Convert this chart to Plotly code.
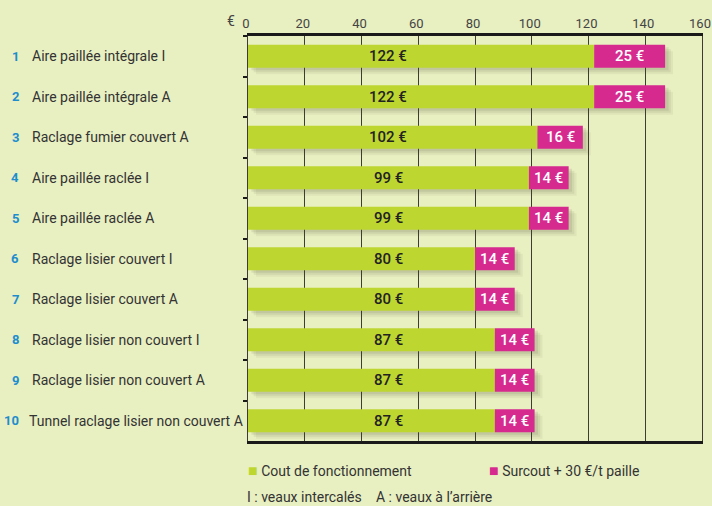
import plotly.graph_objects as go

# Systems compared (number, label) and annual costs in € per place
numbers = ["1", "2", "3", "4", "5", "6", "7", "8", "9", "10"]
systems = [
    "Aire paillée intégrale I",
    "Aire paillée intégrale A",
    "Raclage fumier couvert A",
    "Aire paillée raclée I",
    "Aire paillée raclée A",
    "Raclage lisier couvert I",
    "Raclage lisier couvert A",
    "Raclage lisier non couvert I",
    "Raclage lisier non couvert A",
    "Tunnel raclage lisier non couvert A",
]
running_cost = [122, 122, 102, 99, 99, 80, 80, 87, 87, 87]
straw_extra = [25, 25, 16, 14, 14, 14, 14, 14, 14, 14]
x_ticks = [0, 20, 40, 60, 80, 100, 120, 140, 160]

GREEN = "#bed630"
MAGENTA = "#d62a8f"
BLUE = "#1d8dce"
BG = "#e8efc1"
TEXT = "#333333"
FONT = "Roboto"

W, H = 712, 506
L, R, T, B = 248, 10, 36, 65
PW, PH = W - L - R, H - T - B


def px(x):
    return (x - L) / PW


def py(y):
    return (H - B - y) / PH


totals = [a + b for a, b in zip(running_cost, straw_extra)]
bar_w = 0.57

fig = go.Figure()

# soft drop shadow under each full bar
for dx, dy, alpha in [(1.2, 0.06, 0.10), (2.0, 0.11, 0.08), (2.8, 0.16, 0.06)]:
    fig.add_trace(go.Bar(
        y=numbers, x=totals, base=dx, orientation="h",
        width=bar_w, offset=-bar_w / 2 + dy,
        marker=dict(color=f"rgba(70,70,40,{alpha})", line=dict(width=0)),
        hoverinfo="skip", showlegend=False,
    ))

fig.add_trace(go.Bar(
    y=numbers, x=running_cost, orientation="h", name="Cout de fonctionnement",
    width=bar_w, marker=dict(color=GREEN, line=dict(width=0)), showlegend=False,
))
fig.add_trace(go.Bar(
    y=numbers, x=straw_extra, base=running_cost, orientation="h",
    name="Surcout + 30 €/t paille",
    width=bar_w, marker=dict(color=MAGENTA, line=dict(width=0)), showlegend=False,
))

ann = []
for i, (n, s, rc, se) in enumerate(zip(numbers, systems, running_cost, straw_extra)):
    ann.append(dict(x=px(21), y=i, xref="paper", yref="y", text=f"<b>{n}</b>",
                    showarrow=False, xanchor="right", yanchor="middle",
                    font=dict(color=BLUE, size=13, family=FONT)))
    ann.append(dict(x=px(27 if n == "10" else 30), y=i, xref="paper", yref="y", text=s,
                    showarrow=False, xanchor="left", yanchor="middle",
                    font=dict(color=TEXT, size=14, family=FONT)))
    ann.append(dict(x=49.5, y=i, xref="x", yref="y", text=f"{rc} €",
                    showarrow=False, xanchor="center", yanchor="middle",
                    font=dict(color="#222222", size=15, family=FONT, weight=500)))
    ann.append(dict(x=rc + se / 2, y=i, xref="x", yref="y", text=f"{se} €",
                    showarrow=False, xanchor="center", yanchor="middle",
                    font=dict(color="white", size=15, family=FONT, weight=500)))

# currency unit next to the top axis
ann.append(dict(x=px(231), y=py(21), xref="paper", yref="paper", text="€",
                showarrow=False, xanchor="center", yanchor="middle",
                font=dict(color="#444444", size=14, family=FONT)))

# legend and footnote
ann.append(dict(x=px(246), y=py(471), xref="paper", yref="paper",
                xanchor="left", yanchor="middle",
                text=f"<span style='color:{GREEN};font-size:16px'>■</span> Cout de fonctionnement",
                showarrow=False, font=dict(color=TEXT, size=14, family=FONT)))
ann.append(dict(x=px(487), y=py(471), xref="paper", yref="paper",
                xanchor="left", yanchor="middle",
                text=f"<span style='color:{MAGENTA};font-size:16px'>■</span> Surcout + 30 €/t paille",
                showarrow=False, font=dict(color=TEXT, size=14, family=FONT)))
ann.append(dict(x=px(245), y=py(497), xref="paper", yref="paper",
                xanchor="left", yanchor="middle",
                text="I : veaux intercalés", showarrow=False,
                font=dict(color=TEXT, size=14, family=FONT)))
ann.append(dict(x=px(374), y=py(497), xref="paper", yref="paper",
                xanchor="left", yanchor="middle",
                text="A : veaux à l’arrière", showarrow=False,
                font=dict(color=TEXT, size=14, family=FONT)))

fig.update_layout(
    width=W, height=H,
    margin=dict(l=L, r=R, t=T, b=B),
    paper_bgcolor=BG, plot_bgcolor=BG,
    barmode="overlay", bargap=0.43,
    annotations=ann,
    font=dict(family=FONT, color=TEXT),
)
fig.update_xaxes(
    side="top", range=[0, 160], tickvals=x_ticks,
    ticklabeloverflow="allow", automargin=False, ticklabelshift=-2,
    showgrid=True, gridcolor="#3d3d33", gridwidth=1.4,
    showline=True, linecolor="#1a1a1a", linewidth=2.5, mirror=True,
    ticks="", tickfont=dict(size=13, color="#444444", family=FONT),
    zeroline=False, fixedrange=True,
)
fig.update_yaxes(
    type="category", categoryorder="array", categoryarray=numbers, range=[9.5, -0.5],
    showticklabels=False, showgrid=False, automargin=False,
    showline=True, linecolor="#3d3d33", linewidth=1.4, mirror=True,
    ticks="outside", tickson="boundaries", ticklen=4, tickcolor="#1a1a1a", tickwidth=2,
    zeroline=False, fixedrange=True,
)

fig.write_html("out.html")
